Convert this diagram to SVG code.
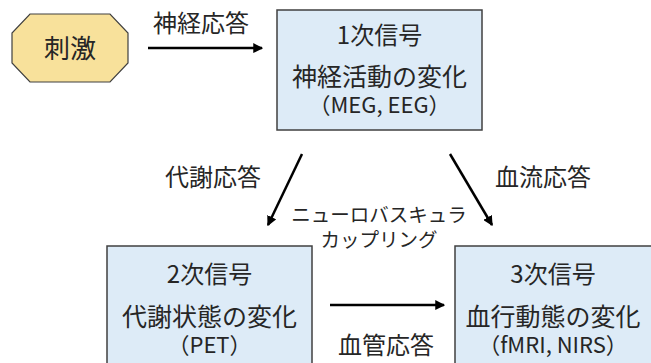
<svg xmlns="http://www.w3.org/2000/svg" width="651" height="363" viewBox="0 0 651 363">
<defs>
<marker id="ah" markerWidth="4" markerHeight="4" refX="3.5" refY="2" orient="auto" markerUnits="strokeWidth">
<path d="M0,0 L4,2 L0,4 Z" fill="#000"/>
</marker>
<style>
text{font-family:"Noto Sans CJK JP","Noto Sans",sans-serif;fill:#262626;text-anchor:middle;}
.box{fill:#DDEBF7;stroke:#404040;stroke-width:1.5;}
.oct{fill:#F8E19B;stroke:#404040;stroke-width:1.2;}
.t{font-size:24px;}
.m{font-size:25px;}
.p{font-size:22px;}
.s{font-size:19.5px;}
.c{stroke:#000;stroke-width:2.5;fill:none;marker-end:url(#ah);}
</style>
</defs>
<rect width="651" height="363" fill="#fff"/>
<g id="stim">
<polygon class="oct" points="30,14 110,14 128,33 128,63 110,82 30,82 12,63 12,33"/>
<text x="70" y="58" style="font-size:26px">刺激</text>
</g>
<g id="sig1">
<rect class="box" x="277" y="10" width="205" height="120"/>
<text class="t" x="379.5" y="44">1次信号</text>
<text class="m" x="379.5" y="86">神経活動の変化<tspan class="p" x="379.5" y="113">（MEG, EEG）</tspan></text>
</g>
<g id="sig2">
<rect class="box" x="107" y="246" width="205" height="125"/>
<text class="t" x="209.5" y="283">2次信号</text>
<text class="m" x="209.5" y="326">代謝状態の変化<tspan class="p" x="209.5" y="353">（PET）</tspan></text>
</g>
<g id="sig3">
<rect class="box" x="455" y="246" width="210" height="125"/>
<text class="t" x="553" y="283">3次信号</text>
<text class="m" x="553" y="326">血行動態の変化<tspan class="p" x="553" y="353">（fMRI, NIRS）</tspan></text>
</g>
<g id="connectors">
<line class="c" x1="148" y1="48" x2="262" y2="48"/>
<line class="c" x1="302" y1="154" x2="268" y2="225"/>
<line class="c" x1="450" y1="154" x2="492" y2="225"/>
<line class="c" x1="330" y1="305" x2="444" y2="305"/>
<text class="t" x="201" y="32">神経応答</text>
<text class="t" x="213" y="186">代謝応答</text>
<text class="t" x="543" y="186">血流応答</text>
<text class="t" x="386" y="354">血管応答</text>
<text class="s" x="379" y="222">ニューロバスキュラ<tspan x="379" y="247">カップリング</tspan></text>
</g>
</svg>
